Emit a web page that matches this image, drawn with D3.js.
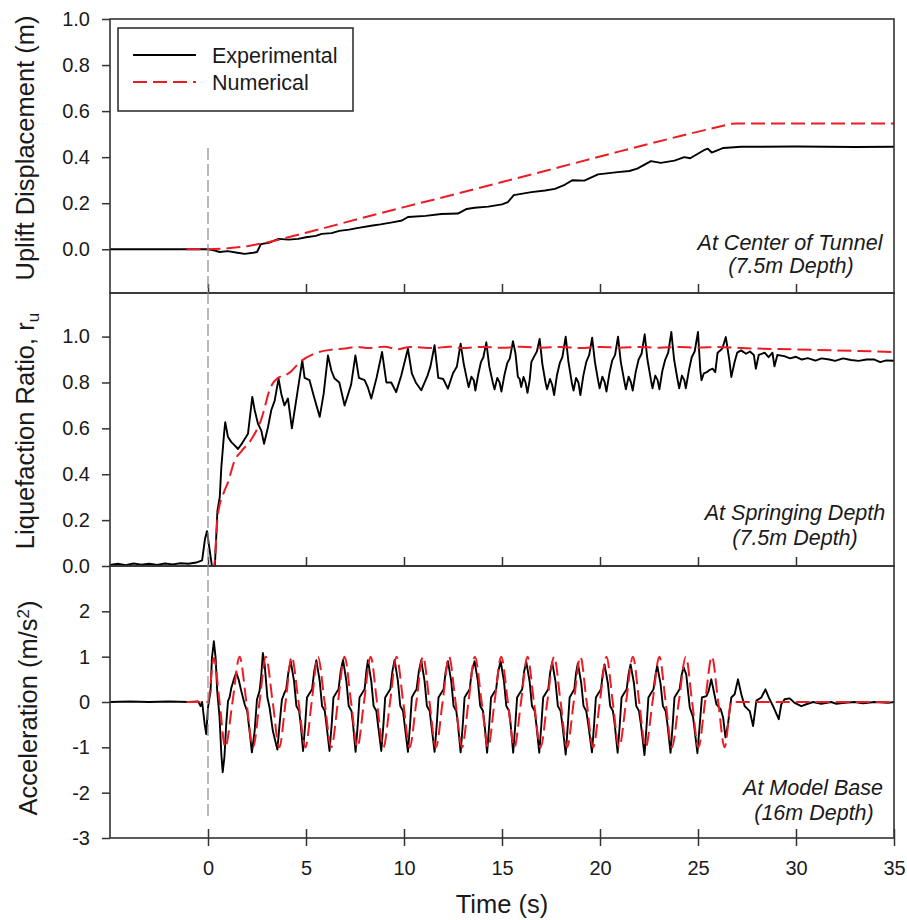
<!DOCTYPE html>
<html><head><meta charset="utf-8">
<script src="https://cdn.jsdelivr.net/npm/d3@7/dist/d3.min.js"></script>
<style>
body{margin:0;background:#fff}
svg{display:block}
text{font-family: Arial, "Liberation Sans", sans-serif; fill:#1a1a1a}
</style>
</head><body>
<svg id="chart" width="907" height="920"></svg>
<script>
// ---------------- DATA ----------------
const timeTicks = [0, 5, 10, 15, 20, 25, 30, 35];
const upliftTicks = [0, 0.2, 0.4, 0.6, 0.8, 1.0];
const ruTicks = [0, 0.2, 0.4, 0.6, 0.8, 1.0];
const accTicks = [-3, -2, -1, 0, 1, 2];
const seriesNames = ["Experimental", "Numerical"];

// Uplift displacement (m) vs time (s)
const upliftExp = [[-5,0],[-2,0],[0,0],[0.3,-0.005],[0.6,-0.012],[1.0,-0.008],[1.5,-0.015],[1.87,-0.02],[2.3,-0.015],[2.5,-0.012],[2.7,0.022],[3.1,0.028],[3.6,0.045],[4.1,0.042],[4.6,0.045],[5.0,0.052],[5.5,0.058],[5.8,0.067],[6.3,0.07],[6.7,0.08],[7.2,0.085],[7.6,0.092],[8.4,0.103],[8.8,0.108],[9.4,0.117],[9.9,0.125],[10.2,0.14],[11.1,0.145],[11.9,0.153],[12.75,0.155],[13.2,0.175],[13.6,0.18],[14.3,0.185],[15.0,0.195],[15.3,0.205],[15.6,0.235],[16.5,0.248],[17.2,0.255],[17.7,0.262],[18.2,0.28],[18.6,0.30],[19.2,0.298],[19.9,0.325],[20.9,0.335],[21.5,0.34],[21.9,0.35],[22.6,0.383],[23.1,0.375],[23.8,0.385],[24.3,0.40],[24.6,0.395],[25.3,0.43],[25.5,0.437],[25.7,0.42],[26.3,0.44],[27.2,0.445],[30,0.446],[33,0.444],[35,0.445]];
const upliftNum = [[-1.1,0],[0,0],[1,0.004],[2,0.013],[3,0.029],[4,0.05],[5,0.072],[6,0.094],[8,0.139],[10,0.183],[12,0.226],[15,0.292],[18,0.358],[21,0.425],[24,0.49],[26.7,0.545],[27,0.546],[35,0.546]];

// Liquefaction ratio r_u vs time (s)
const ruExp = [[-5,0.005],[-4.6,0.01],[-4.2,0.004],[-3.8,0.011],[-3.4,0.006],[-3,0.01],[-2.6,0.005],[-2.2,0.011],[-1.8,0.007],[-1.4,0.012],[-1,0.01],[-0.6,0.015],[-0.3,0.025],[-0.15,0.12],[-0.05,0.152],[0.05,0.09],[0.2,0.0],[0.35,0.0],[0.48,0.24],[0.6,0.3],[0.68,0.43],[0.82,0.577],[0.88,0.627],[1.02,0.562],[1.19,0.54],[1.36,0.526],[1.53,0.51],[1.7,0.53],[2.04,0.577],[2.26,0.737],[2.38,0.68],[2.55,0.62],[2.72,0.59],[2.86,0.533],[3.06,0.605],[3.23,0.68],[3.4,0.72],[3.6,0.817],[3.74,0.75],[3.9,0.70],[4.08,0.73],[4.28,0.60],[4.55,0.75],[4.81,0.896],[4.93,0.82],[5.18,0.81],[5.4,0.74],[5.7,0.65],[5.9,0.75],[6.12,0.918],[6.3,0.85],[6.46,0.817],[6.7,0.80],[6.97,0.70],[7.3,0.79],[7.52,0.918],[7.7,0.82],[7.99,0.81],[8.15,0.78],[8.33,0.73],[8.6,0.82],[8.88,0.933],[9.1,0.80],[9.35,0.80],[9.6,0.758],[9.86,0.83],[10.2,0.947],[10.4,0.84],[10.6,0.80],[10.88,0.766],[11.2,0.83],[11.35,0.87],[11.56,0.962],[11.75,0.82],[12.0,0.815],[12.24,0.773],[12.5,0.84],[12.7,0.87],[12.89,0.969],
[13.05,0.88],[13.22,0.81],[13.3,0.78],[13.44,0.825],[13.56,0.81],[13.64,0.765],[13.8,0.84],[13.93,0.89],[14.05,0.91],[14.2,0.975],
[14.35,0.87],[14.53,0.80],[14.62,0.77],[14.76,0.82],[14.88,0.80],[14.97,0.76],[15.13,0.835],[15.27,0.885],[15.4,0.905],[15.56,0.98],
[15.69,0.925],[15.81,0.824],[15.9,0.816],[15.98,0.78],[16.1,0.824],[16.2,0.80],[16.3,0.755],[16.41,0.81],[16.5,0.89],[16.65,0.915],[16.78,0.935],[16.92,0.99],
[17.06,0.88],[17.22,0.80],[17.3,0.77],[17.45,0.815],[17.56,0.79],[17.66,0.745],[17.8,0.83],[17.95,0.885],[18.08,0.91],[18.25,1.0],
[18.39,0.89],[18.56,0.80],[18.65,0.765],[18.78,0.82],[18.9,0.80],[19.0,0.745],[19.15,0.83],[19.3,0.89],[19.45,0.92],[19.6,0.995],
[19.74,0.89],[19.9,0.81],[19.98,0.775],[20.12,0.825],[20.24,0.80],[20.33,0.76],[20.48,0.84],[20.62,0.895],[20.77,0.92],[20.92,1.0],
[21.06,0.89],[21.23,0.81],[21.32,0.77],[21.46,0.825],[21.58,0.80],[21.67,0.765],[21.82,0.845],[21.97,0.9],[22.12,0.925],[22.28,1.01],
[22.42,0.9],[22.6,0.81],[22.68,0.775],[22.82,0.83],[22.94,0.81],[23.03,0.77],[23.18,0.85],[23.33,0.9],[23.48,0.93],[23.64,1.02],
[23.78,0.9],[23.95,0.815],[24.04,0.775],[24.18,0.83],[24.3,0.81],[24.38,0.775],[24.54,0.855],[24.68,0.91],[24.83,0.935],[25.0,1.02],
[25.12,0.85],[25.18,0.81],[25.3,0.84],[25.45,0.845],[25.6,0.855],[25.75,0.86],[25.88,0.845],[26.0,0.93],[26.15,0.94],[26.25,0.95],[26.42,0.998],[26.6,0.896],[26.7,0.824],[26.87,0.89],[27.0,0.93],[27.2,0.94],[27.45,0.925],[27.65,0.935],[27.85,0.92],[27.95,0.86],[28.1,0.92],[28.4,0.93],[28.6,0.91],[28.8,0.93],[28.9,0.87],[29.05,0.92],[29.4,0.915],[29.7,0.905],[30,0.912],[30.3,0.9],[30.6,0.906],[31,0.895],[31.3,0.905],[31.7,0.9],[32,0.894],[32.4,0.905],[32.8,0.898],[33.2,0.894],[33.6,0.9],[34,0.9],[34.3,0.889],[34.6,0.896],[35,0.895]];
const ruNum = [[-1.1,0],[0.3,0],[0.5,0.22],[0.85,0.33],[1.0,0.36],[1.36,0.46],[1.7,0.5],[2.2,0.55],[2.7,0.635],[3.2,0.78],[3.57,0.82],[3.9,0.83],[4.2,0.845],[4.7,0.89],[5.4,0.925],[6.3,0.943],[7.0,0.948],[7.6,0.955],[8.2,0.95],[9.0,0.956],[9.7,0.945],[10.3,0.955],[11.5,0.95],[12.3,0.956],[13.0,0.95],[14,0.955],[15,0.951],[16,0.956],[17,0.951],[18,0.955],[19,0.95],[20,0.955],[21,0.951],[22,0.955],[23,0.951],[24,0.955],[25,0.951],[26,0.955],[27.2,0.95],[30,0.944],[35,0.933]];

// Base acceleration (m/s^2) vs time (s)
const accExp = [[-5,0],[-4,0.01],[-3,0],[-2,0.01],[-1,0],[-0.5,0.01],[-0.38,-0.09],[-0.3,0.0],[-0.17,-0.49],[-0.09,-0.71],[0,-0.12],[0.08,0.1],[0.13,0.24],[0.2,0.97],[0.3,1.34],[0.39,0.97],[0.47,0.24],[0.59,-0.34],[0.68,-1.15],[0.75,-1.55],[0.84,-1.2],[0.93,-0.49],[1.02,0.02],[1.1,0.1],[1.19,0.31],[1.32,0.5],[1.44,0.65],[1.56,0.5],[1.7,0.24],[1.87,-0.05],[2.0,-0.2],[2.12,-0.64],[2.24,-1.11],[2.38,-0.64],[2.5,0.06],[2.63,0.24],[2.72,0.6],[2.8,1.08],[2.89,0.83],[3.03,0.1],[3.14,-0.12],[3.31,-0.64],[3.54,-1.05],[3.65,-0.5],[3.77,0.05],[3.9,0.2],[3.99,0.28],[4.1,0.65],[4.22,0.9],
[4.39,0.46],[4.51,-0.09],[4.65,-0.2],[4.73,-0.49],[4.85,-1.08],[4.96,-0.49],[5.05,0.1],[5.19,0.2],[5.31,0.28],[5.42,0.68],[5.53,0.92],
[5.70,0.46],[5.82,-0.09],[5.96,-0.2],[6.04,-0.49],[6.2,-1.08],[6.31,-0.5],[6.4,0.1],[6.54,0.2],[6.66,0.28],[6.77,0.68],[6.89,0.93],
[7.06,0.46],[7.18,-0.09],[7.32,-0.2],[7.4,-0.49],[7.53,-1.1],[7.64,-0.5],[7.73,0.1],[7.87,0.2],[7.99,0.28],[8.08,0.68],[8.16,0.92],
[8.33,0.46],[8.45,-0.09],[8.59,-0.2],[8.67,-0.49],[8.84,-1.08],[8.95,-0.5],[9.04,0.1],[9.18,0.2],[9.3,0.28],[9.41,0.68],[9.52,0.93],
[9.69,0.46],[9.81,-0.09],[9.95,-0.2],[10.03,-0.49],[10.2,-1.1],[10.31,-0.5],[10.4,0.1],[10.52,0.2],[10.64,0.28],[10.76,0.68],[10.88,0.92],
[11.05,0.46],[11.17,-0.09],[11.31,-0.2],[11.39,-0.49],[11.56,-1.1],[11.67,-0.5],[11.76,0.1],[11.9,0.2],[12.02,0.28],[12.13,0.68],[12.24,0.9],
[12.41,0.46],[12.53,-0.09],[12.67,-0.2],[12.75,-0.49],[12.89,-1.11],[13.0,-0.49],[13.09,0.1],[13.23,0.2],[13.35,0.28],[13.46,0.68],[13.6,0.9],
[13.77,0.46],[13.89,-0.09],[14.03,-0.2],[14.11,-0.49],[14.24,-1.12],[14.35,-0.49],[14.44,0.1],[14.58,0.2],[14.7,0.28],[14.81,0.68],[14.93,0.9],
[15.1,0.46],[15.22,-0.09],[15.36,-0.2],[15.44,-0.49],[15.57,-1.12],[15.68,-0.49],[15.77,0.1],[15.91,0.2],[16.03,0.28],[16.13,0.68],[16.24,0.88],
[16.41,0.45],[16.53,-0.09],[16.67,-0.2],[16.75,-0.49],[16.9,-1.12],[17.01,-0.49],[17.1,0.1],[17.24,0.2],[17.36,0.28],[17.46,0.66],[17.56,0.88],
[17.73,0.45],[17.85,-0.09],[17.99,-0.2],[18.08,-0.5],[18.25,-1.16],[18.36,-0.5],[18.45,0.1],[18.58,0.2],[18.69,0.28],[18.78,0.64],[18.87,0.85],
[19.04,0.43],[19.16,-0.09],[19.3,-0.2],[19.4,-0.49],[19.59,-1.11],[19.7,-0.49],[19.79,0.1],[19.93,0.2],[20.05,0.28],[20.14,0.62],[20.23,0.83],
[20.4,0.42],[20.52,-0.09],[20.66,-0.2],[20.75,-0.49],[20.9,-1.12],[21.01,-0.49],[21.1,0.1],[21.24,0.2],[21.36,0.28],[21.46,0.62],[21.56,0.83],
[21.73,0.42],[21.85,-0.09],[21.99,-0.2],[22.09,-0.5],[22.27,-1.17],[22.38,-0.5],[22.47,0.1],[22.61,0.2],[22.73,0.28],[22.83,0.6],[22.92,0.8],
[23.09,0.4],[23.21,-0.09],[23.35,-0.2],[23.44,-0.49],[23.6,-1.12],[23.71,-0.49],[23.8,0.1],[23.94,0.2],[24.06,0.28],[24.16,0.58],[24.26,0.77],
[24.4,0.61],[24.58,-0.12],[24.75,-0.34],[24.97,-1.13],[25.09,-0.49],[25.2,0.1],[25.43,0.13],[25.54,0.24],[25.68,0.5],[25.77,0.31],[25.94,-0.05],[26.16,-0.16],[26.28,-0.34],[26.4,-0.78],[26.53,-0.49],[26.7,0.1],[26.87,0.17],[27.04,0.5],[27.21,0.17],[27.38,-0.09],[27.64,-0.2],[27.81,-0.53],[27.98,0.03],[28.23,0.1],[28.44,0.28],[28.61,0.1],[28.83,-0.09],[29.12,-0.38],[29.25,-0.05],[29.42,0.06],[29.68,0.08],[29.93,-0.02],[30.27,-0.09],[30.53,-0.05],[30.87,0.0],[31.29,-0.04],[31.8,0.0],[32.06,-0.04],[32.48,-0.02],[32.99,0.0],[33.42,-0.03],[34.0,0.0],[34.7,-0.02],[35,0.0]];
const accNum = [[-1.1,0],[0,0],[0.3,0.97],[0.59,0],[0.88,-1.0],[1.25,0],[1.61,1.0],[1.96,0],[2.3,-1.0],[2.63,0],[2.95,1.0],[3.3,0],[3.64,-1.0],[3.96,0],[4.27,1.0],[4.62,0],[4.97,-1.0],[5.29,0],[5.61,1.0],[5.95,0],[6.29,-1.0],[6.63,0],[6.97,1.0],[7.3,0],[7.62,-1.0],[7.96,0],[8.3,1.0],[8.62,0],[8.95,-1.0],[9.29,0],[9.62,1.0],[9.96,0],[10.29,-1.0],[10.63,0],[10.97,1.0],[11.3,0],[11.63,-1.0],[11.97,0],[12.3,1.0],[12.63,0],[12.96,-1.0],[13.29,0],[13.62,1.0],[13.96,0],[14.29,-1.0],[14.62,0],[14.96,1.0],[15.3,0],[15.63,-1.0],[15.97,0],[16.3,1.0],[16.63,0],[16.97,-1.0],[17.31,0],[17.66,1.0],[17.99,0],[18.32,-1.0],[18.66,0],[19.0,1.0],[19.32,0],[19.65,-1.0],[19.99,0],[20.33,1.0],[20.65,0],[20.98,-1.0],[21.33,0],[21.68,1.0],[22.0,0],[22.33,-1.0],[22.68,0],[23.03,1.0],[23.35,0],[23.67,-1.0],[24.02,0],[24.38,1.0],[24.7,0],[25.02,-1.0],[25.36,0],[25.71,1.0],[26.03,0],[26.36,-1.0],[26.7,0],[35,0]];

// ---------------- DRAW ----------------
const svg = d3.select("#chart");
const x = d3.scaleLinear().domain([-5, 35]).range([110, 894]);
const FRAME = "#333";
const RED = "#ec1c24";

const panels = [
  {key:"uplift", domain:[-0.19, 1.0], range:[293, 19], ticks:upliftTicks, fmt:d3.format(".1f"),
   exp:upliftExp, num:upliftNum, numCurve:d3.curveLinear, innerTicks:"up",
   note:["At Center of Tunnel","(7.5m Depth)"], noteX:[790,791], noteY:[250,273]},
  {key:"ru", domain:[0, 1.19], range:[566, 293], ticks:ruTicks, fmt:d3.format(".1f"),
   exp:ruExp, num:ruNum, numCurve:d3.curveMonotoneX, innerTicks:"up",
   note:["At Springing Depth","(7.5m Depth)"], noteX:[795,795], noteY:[520,545]},
  {key:"acc", domain:[-3, 3], range:[838, 566], ticks:accTicks, fmt:d => String(d),
   exp:accExp, num:accNum, numCurve:d3.curveMonotoneX, innerTicks:"cross",
   note:["At Model Base","(16m Depth)"], noteX:[813,814], noteY:[795,820]}
];

panels.forEach(p => {
  const y = d3.scaleLinear().domain(p.domain).range(p.range);
  const g = svg.append("g").attr("class", "panel-" + p.key);

  const ya = g.append("g").attr("transform", `translate(${x.range()[0]},0)`)
    .call(d3.axisLeft(y).tickValues(p.ticks).tickFormat(p.fmt).tickSize(8).tickPadding(12));
  ya.select(".domain").remove();
  ya.selectAll(".tick line").attr("stroke", FRAME).attr("stroke-width", 1.5);
  ya.selectAll(".tick text").style("font-size", "20px").attr("fill", "#1a1a1a");

  const bottomY = p.range[0];
  if (p.innerTicks === "up") {
    const xa = g.append("g").attr("transform", `translate(0,${bottomY})`)
      .call(d3.axisTop(x).tickValues(timeTicks.filter(t => t < 35)).tickSize(9).tickFormat(""));
    xa.select(".domain").remove();
    xa.selectAll(".tick line").attr("stroke", FRAME).attr("stroke-width", 1.5);
  } else {
    const xa = g.append("g").attr("transform", `translate(0,${bottomY})`)
      .call(d3.axisBottom(x).tickValues(timeTicks).tickSize(8).tickPadding(15));
    xa.select(".domain").remove();
    xa.selectAll(".tick line").attr("stroke", FRAME).attr("stroke-width", 1.5).attr("y1", -9);
    xa.selectAll(".tick text").style("font-size", "20px").attr("fill", "#1a1a1a");
  }

  const lineExp = d3.line().x(d => x(d[0])).y(d => y(d[1]));
  const lineNum = d3.line().x(d => x(d[0])).y(d => y(d[1])).curve(p.numCurve);
  g.append("path").datum(p.exp).attr("d", lineExp)
    .attr("fill", "none").attr("stroke", "#000").attr("stroke-width", 1.9).attr("stroke-linejoin", "round");
  g.append("path").datum(p.num).attr("d", lineNum)
    .attr("fill", "none").attr("stroke", RED).attr("stroke-width", 2).attr("stroke-dasharray", "14,6");

  g.append("rect").attr("x", x.range()[0]).attr("y", p.range[1])
    .attr("width", x.range()[1] - x.range()[0]).attr("height", p.range[0] - p.range[1])
    .attr("fill", "none").attr("stroke", FRAME).attr("stroke-width", 1.6);

  p.note.forEach((t, i) => {
    g.append("text").attr("x", p.noteX[i]).attr("y", p.noteY[i]).attr("text-anchor", "middle")
      .style("font-size", "21.5px").style("font-style", "italic").text(t);
  });
});

svg.append("line").attr("x1", x(0)).attr("x2", x(0)).attr("y1", 148).attr("y2", 817)
  .attr("stroke", "#8a8a8a").attr("stroke-width", 1.2).attr("stroke-dasharray", "12,4");

function yTitle(cx, cy, build) {
  const t = svg.append("text").attr("transform", `translate(${cx},${cy}) rotate(-90)`)
    .attr("text-anchor", "middle").style("font-size", "25.5px");
  build(t);
}
yTitle(34, 148, t => t.text("Uplift Displacement (m)"));
yTitle(34, 431, t => {
  t.append("tspan").text("Liquefaction Ratio, r");
  t.append("tspan").attr("baseline-shift", "-30%").style("font-size", "17px").text("u");
});
yTitle(37, 708, t => {
  t.append("tspan").text("Acceleration (m/s");
  t.append("tspan").attr("baseline-shift", "45%").style("font-size", "17px").text("2");
  t.append("tspan").text(")");
});

svg.append("text").attr("x", 502).attr("y", 913).attr("text-anchor", "middle")
  .style("font-size", "25.5px").text("Time (s)");

const lg = svg.append("g").attr("class", "legend");
lg.append("rect").attr("x", 118).attr("y", 28).attr("width", 235).attr("height", 83)
  .attr("fill", "#fff").attr("stroke", FRAME).attr("stroke-width", 1.6);
seriesNames.forEach((name, i) => {
  const yy = 55 + i * 27;
  lg.append("line").attr("x1", 133).attr("x2", 196).attr("y1", yy).attr("y2", yy)
    .attr("stroke", i === 0 ? "#000" : RED).attr("stroke-width", i === 0 ? 1.9 : 2)
    .attr("stroke-dasharray", i === 0 ? null : "14,6");
  lg.append("text").attr("x", 212).attr("y", yy + 8).style("font-size", "21.5px").text(name);
});
</script>
</body></html>
